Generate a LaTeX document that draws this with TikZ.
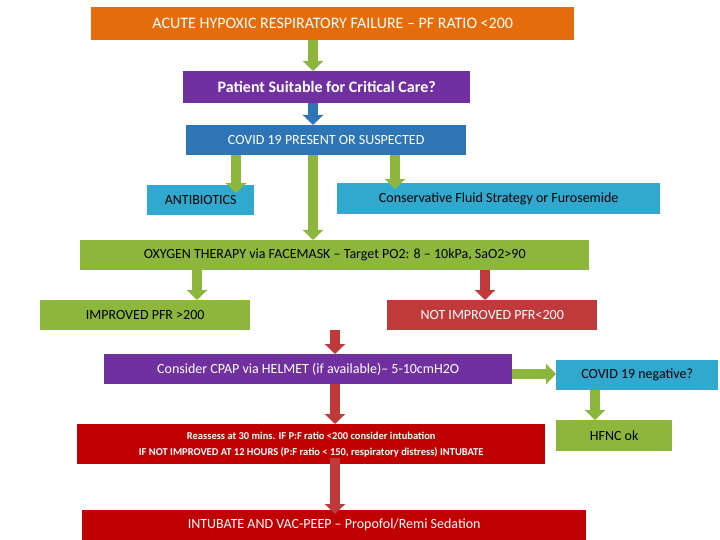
\documentclass[tikz,border=0pt]{standalone}
\usepackage{fontspec}
\setmainfont{Carlito}
\usetikzlibrary{arrows.meta}
\definecolor{orangeb}{HTML}{E46C0A}
\definecolor{purpleb}{HTML}{7030A0}
\definecolor{blueb}{HTML}{2E75B6}
\definecolor{cyanb}{HTML}{31A9CF}
\definecolor{greenb}{HTML}{8DB63C}
\definecolor{redb}{HTML}{C00000}
\definecolor{reda}{HTML}{C0393B}
\tikzset{
 bx/.style={inner sep=0pt, anchor=north west, align=center, font=\fontsize{14}{16}\selectfont},
 blk/.style={line width=10pt, -{Triangle[width=20pt,length=10pt]}},
}
\newcommand{\bxat}[7]{% name, x1,y1,x2,y2, fill, text
 \node[bx, fill=#6, minimum width=#4-#2, minimum height=#5-#3] (#1) at (#2,#3) {#7};}
\begin{document}
\begin{tikzpicture}[x=1pt,y=-1pt]
\useasboundingbox (0,0) rectangle (720,540);
\bxat{t}{91}{7}{574}{40}{orangeb}{\color{white}\fontsize{16}{18}\selectfont ACUTE HYPOXIC RESPIRATORY FAILURE – PF RATIO <200}
\bxat{p}{183}{71}{470}{103}{purpleb}{\color{white}\bfseries\fontsize{16}{18}\selectfont Patient Suitable for Critical Care?}
\bxat{c}{186}{125}{466}{155}{blueb}{\color{white}\fontsize{14}{16}\selectfont COVID 19 PRESENT OR SUSPECTED}
\bxat{a}{147}{185}{254}{215}{cyanb}{ANTIBIOTICS}
\bxat{f}{337}{183}{660}{214}{cyanb}{Conservative Fluid Strategy or Furosemide}
\bxat{o}{80}{240}{589}{270}{greenb}{OXYGEN THERAPY via FACEMASK – Target PO2: 8 – 10kPa, SaO2>90}
\bxat{i}{40}{300}{250}{330}{greenb}{IMPROVED PFR >200}
\bxat{n}{387}{300}{597}{330}{reda}{\color{white}NOT IMPROVED PFR<200}
\bxat{h}{104}{354}{512}{384}{purpleb}{\color{white}Consider CPAP via HELMET (if available)– 5-10cmH2O}
\bxat{g}{556}{360}{718}{390}{cyanb}{COVID 19 negative?}
\bxat{k}{556}{420}{672}{451}{greenb}{HFNC ok}
\bxat{r}{77}{424}{545}{464}{redb}{\color{white}\bfseries\fontsize{10.5}{17}\selectfont Reassess at 30 mins. IF P:F ratio <200 consider intubation\\ \color{white}\bfseries\fontsize{10.5}{13}\selectfont IF NOT IMPROVED AT 12 HOURS (P:F ratio < 150, respiratory distress) INTUBATE}
\bxat{z}{82}{510}{586}{540}{redb}{\color{white}INTUBATE AND VAC-PEEP – Propofol/Remi Sedation}
\draw[blk,greenb] (t.south -| 313,0) -- (p.north -| 313,0);
\draw[blk,blueb] (p.south -| 313,0) -- (c.north -| 313,0);
\draw[blk,greenb] (c.south -| 236,0) -- ([yshift=-8]a.north -| 236,0);
\draw[blk,greenb] (c.south -| 395,0) -- ([yshift=-6]f.north -| 395,0);
\draw[blk,greenb] (c.south -| 313,0) -- (o.north -| 313,0);
\draw[blk,greenb] (o.south -| 197,0) -- (i.north -| 197,0);
\draw[blk,reda] (o.south -| 485,0) -- (n.north -| 485,0);
\draw[blk,reda] (n.south -| 335,0) -- (h.north -| 335,0);
\draw[blk,greenb] (h.east |- 0,374) -- (g.west |- 0,374);
\draw[blk,reda] (h.south -| 335,0) -- (r.north -| 335,0);
\draw[blk,greenb] (g.south -| 595,0) -- (k.north -| 595,0);
\draw[blk,reda] ([yshift=6]r.south -| 335,0) -- ([yshift=-4]z.north -| 335,0);
\end{tikzpicture}
\end{document}
